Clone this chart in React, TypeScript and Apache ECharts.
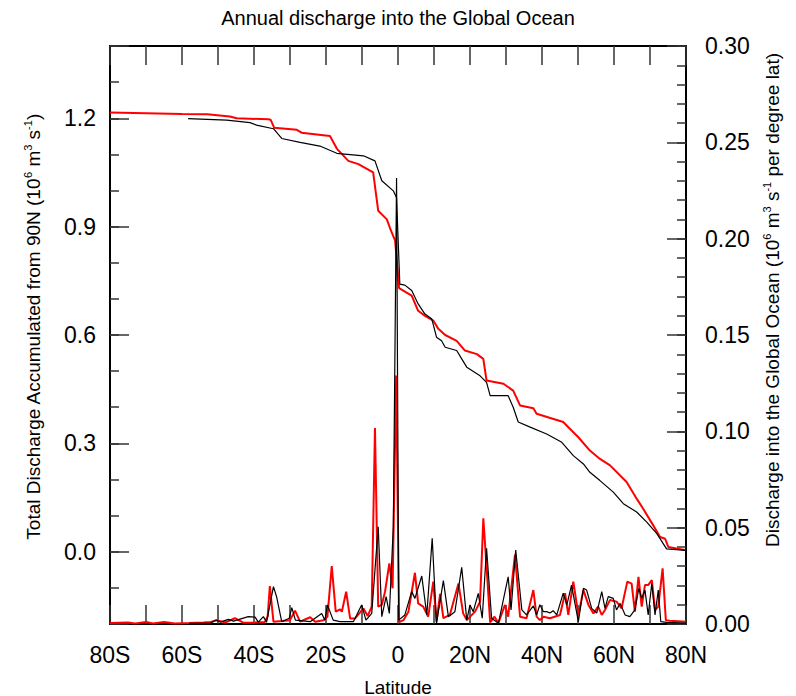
import React, { useEffect, useRef } from 'react';
import * as echarts from 'echarts';

const FONT = '"Liberation Sans", Arial, Helvetica, sans-serif';

const titleText = 'Annual discharge into the Global Ocean';
const xName = 'Latitude';
const leftName = 'Total Discharge Accumulated from 90N (10{s|6} m{s|3} s{s|-1})';
const rightName = 'Discharge into the Global Ocean (10{s|6} m{s|3} s{s|-1} per degree lat)';

// Accumulated discharge from 90N (left axis)
const redAccLat = [-80, -70, -60, -53, -46.7, -44.8, -36, -35.4, -34.4, -28.1, -26.8, -18.9, -17, -13.8, -11, -6.9, -5.5, -3.1, -2, -0.8, 0.3, 3.8, 5.6, 7.5, 9.8, 11.2, 13.1, 16.3, 18.6, 21.9, 23.7, 24.6, 29.3, 32, 33.9, 37.6, 38.5, 45.9, 47.8, 50.1, 53.3, 56.1, 58.9, 63.5, 66.3, 68.1, 70.9, 72.8, 74.2, 75.1, 80];
const redAccVal = [1.216, 1.214, 1.212, 1.211, 1.205, 1.2, 1.197, 1.196, 1.174, 1.168, 1.16, 1.151, 1.116, 1.082, 1.073, 1.05, 0.944, 0.92, 0.89, 0.861, 0.73, 0.709, 0.667, 0.653, 0.64, 0.617, 0.6, 0.584, 0.557, 0.547, 0.534, 0.474, 0.465, 0.446, 0.405, 0.397, 0.382, 0.359, 0.34, 0.317, 0.28, 0.257, 0.239, 0.193, 0.147, 0.119, 0.073, 0.041, 0.036, 0.013, 0.004];

const blackAccLat = [-58.3, -47.6, -41.1, -39.3, -34.6, -32.3, -27.2, -21.7, -17, -9.6, -6.4, -4.5, -1.3, -0.4, 0.5, 1.9, 3.8, 5.6, 7.5, 9.4, 10.7, 12.1, 13.1, 16.3, 17.7, 19.1, 22.8, 24.6, 25.6, 30.6, 32, 33.4, 36.7, 41.3, 45.5, 48.7, 51.5, 53.3, 56.1, 59.8, 62.6, 66.3, 69.1, 71.9, 74.6, 80];
const blackAccVal = [1.199, 1.195, 1.188, 1.181, 1.171, 1.144, 1.133, 1.123, 1.103, 1.096, 1.082, 1.027, 0.999, 0.98, 0.741, 0.738, 0.723, 0.686, 0.658, 0.644, 0.594, 0.584, 0.566, 0.557, 0.534, 0.511, 0.487, 0.469, 0.432, 0.432, 0.4, 0.359, 0.345, 0.326, 0.303, 0.266, 0.243, 0.22, 0.197, 0.165, 0.133, 0.11, 0.082, 0.05, 0.008, 0.004];

// Discharge per degree latitude (right axis)
const redRateLat = [-80, -75, -73, -70, -68, -65, -62, -58, -54, -52, -50.4, -48, -45.3, -43, -40.2, -37, -36.2, -35.6, -34.6, -32.3, -30, -28.6, -27.2, -24.4, -23, -20.7, -19.6, -18.4, -17.3, -16.1, -15.6, -14.4, -13.3, -11.9, -9.6, -8.4, -7.3, -6.4, -5.5, -4.5, -3.6, -2.4, -1.5, -0.5, 0.3, 1.5, 2.9, 4.7, 5.6, 7, 8.4, 9.8, 10.7, 11.7, 12.6, 14.4, 16.8, 18.1, 19.1, 21.4, 22.8, 23.7, 24.6, 25.6, 26.8, 27.9, 29.7, 30.6, 32.5, 33.9, 35.7, 37.6, 38.5, 39.4, 40.4, 42.2, 45, 46.4, 47.3, 48.7, 50.1, 51.5, 52.9, 54.3, 55.6, 56.6, 57.5, 58.9, 60.7, 62.1, 63.7, 64.9, 65.8, 66.8, 67.7, 68.6, 69.5, 70.5, 71.4, 72.3, 73.5, 74.4, 75.5, 80];
const redRateVal = [0.0005, 0.0008, 0.0003, 0.001, 0.0003, 0.001, 0.0003, 0.0005, 0.0008, 0.001, 0.002, 0.0008, 0.003, 0.0007, 0.0007, 0.001, 0.004, 0.0197, 0.0012, 0.0015, 0.002, 0.0069, 0.0012, 0.0035, 0.0012, 0.002, 0.0038, 0.03, 0.0064, 0.0076, 0.0064, 0.0168, 0.0029, 0.0029, 0.0081, 0.0042, 0.009, 0.1017, 0.009, 0.0099, 0.0168, 0.0315, 0.0185, 0.129, 0.001, 0.002, 0.0064, 0.0266, 0.0107, 0.009, 0.0038, 0.022, 0.0012, 0.0156, 0.003, 0.0047, 0.021, 0.0055, 0.002, 0.0064, 0.0116, 0.0549, 0.0297, 0.0008, 0.0038, 0.0005, 0.0099, 0.0038, 0.036, 0.0038, 0.003, 0.0176, 0.0038, 0.002, 0.0038, 0.003, 0.0047, 0.016, 0.0047, 0.022, 0.0047, 0.0176, 0.0099, 0.0055, 0.009, 0.0047, 0.0073, 0.0125, 0.0116, 0.0081, 0.022, 0.021, 0.0064, 0.0245, 0.009, 0.0202, 0.0202, 0.0228, 0.0073, 0.009, 0.0289, 0.002, 0.0017, 0.0012];

const blackRateLat = [-58, -52, -50.6, -49.4, -47.1, -45.7, -41.6, -39.7, -38.8, -37.4, -36.5, -34.6, -33.7, -32.3, -30.2, -29.5, -28.5, -24.4, -21.2, -20.3, -19.6, -18, -16.1, -12.4, -10.1, -8.9, -7.3, -5.5, -4.5, -3.3, -2.4, -1.3, -0.4, 0.2, 1.9, 3.8, 4.7, 6.6, 8, 9.5, 10.7, 12.6, 14, 15.8, 17.7, 19.1, 20, 20.9, 22.3, 23.4, 24.6, 26, 27.9, 30.6, 31.4, 32.7, 34.4, 35.7, 37.6, 38.5, 39.4, 40.4, 41.3, 42.2, 43.1, 44.1, 45.9, 46.9, 48.2, 50.1, 51.5, 52.4, 53.8, 55.2, 56.6, 57.5, 58.4, 59.8, 60.7, 61.7, 63.1, 64.4, 65.8, 66.9, 67.7, 68.6, 69.5, 70.5, 71.4, 72.3, 73, 74.6, 80];
const blackRateVal = [0.0003, 0.0005, 0.002, 0.001, 0.0024, 0.0015, 0.0038, 0.0036, 0.001, 0.0038, 0.001, 0.0194, 0.014, 0.0012, 0.003, 0.0085, 0.002, 0.0012, 0.0055, 0.002, 0.0099, 0.002, 0.0012, 0.0012, 0.0099, 0.002, 0.0055, 0.0505, 0.0038, 0.0142, 0.0055, 0.0505, 0.2315, 0.002, 0.0047, 0.0168, 0.0133, 0.0249, 0.0047, 0.0445, 0.0004, 0.0225, 0.0038, 0.0064, 0.0294, 0.002, 0.0099, 0.0064, 0.0159, 0.003, 0.0393, 0.003, 0.0004, 0.0245, 0.0073, 0.0384, 0.0073, 0.0047, 0.0094, 0.0047, 0.01, 0.0064, 0.0064, 0.0057, 0.0069, 0.0047, 0.016, 0.0099, 0.0202, 0.0012, 0.0185, 0.0176, 0.0081, 0.0057, 0.0168, 0.0081, 0.0142, 0.0133, 0.0073, 0.0107, 0.0047, 0.0038, 0.0073, 0.0185, 0.0133, 0.0176, 0.0047, 0.021, 0.0047, 0.0176, 0.0012, 0.0008, 0.0005];

const zip = (xs: number[], ys: number[]) => xs.map((x, i) => [x, ys[i]]);

const latLabel = (v: number) => {
  if (v % 20 !== 0) return '';
  if (v === 0) return '0';
  return Math.abs(v) + (v < 0 ? 'S' : 'N');
};

const tickStyle = { color: '#333', width: 1.5 };
const frameLine = { show: true, onZero: false, lineStyle: { color: '#000', width: 2 } };
const labelBase = { color: '#000', fontSize: 23, fontFamily: FONT };

export default function App() {
  const ref = useRef<HTMLDivElement>(null);
  useEffect(() => {
    if (!ref.current) return;
    const chart = echarts.init(ref.current, null, { renderer: 'svg' });
    const richSup = {
      s: { fontSize: 11, lineHeight: 11, verticalAlign: 'top', fontFamily: FONT, fill: '#000' },
    };
    const option: any = {
      animation: false,
      backgroundColor: '#fff',
      title: {
        text: titleText,
        left: 'center',
        top: 3,
        textStyle: { fontFamily: FONT, fontSize: 20, fontWeight: 'normal', color: '#000' },
      },
      grid: { left: 110, right: 110, top: 46, bottom: 72, outerBoundsMode: 'none' },
      xAxis: [
        {
          type: 'value', position: 'bottom', min: -80, max: 80, interval: 10,
          axisLine: frameLine,
          axisTick: { show: true, inside: true, length: 19, lineStyle: tickStyle },
          axisLabel: { ...labelBase, formatter: latLabel, margin: 19, showMinLabel: true, showMaxLabel: true },
          splitLine: { show: false },
        },
        {
          type: 'value', position: 'top', min: -80, max: 80, interval: 10,
          axisLine: frameLine,
          axisTick: { show: true, inside: true, length: 19, lineStyle: tickStyle },
          axisLabel: { show: false },
          splitLine: { show: false },
        },
      ],
      yAxis: [
        {
          type: 'value', position: 'left', min: -0.2, max: 1.4, interval: 0.1,
          axisLine: frameLine,
          axisTick: { show: true, inside: true, length: 9, lineStyle: tickStyle },
          axisLabel: { show: false },
          splitLine: { show: false },
        },
        {
          type: 'value', position: 'left', min: -0.2, max: 1.4, splitNumber: 5,
          axisLine: { show: false, onZero: false },
          axisTick: { show: true, inside: true, length: 19, lineStyle: tickStyle },
          axisLabel: {
            ...labelBase, margin: 14, showMinLabel: true, showMaxLabel: true,
            formatter: (v: number) => {
              const k = v / 0.3;
              return Math.abs(k - Math.round(k)) < 1e-6 ? v.toFixed(1) : '';
            },
          },
          splitLine: { show: false },
        },
        {
          type: 'value', position: 'right', min: 0, max: 0.3, interval: 0.01,
          axisLine: frameLine,
          axisTick: { show: true, inside: true, length: 9, lineStyle: tickStyle },
          axisLabel: { show: false },
          splitLine: { show: false },
        },
        {
          type: 'value', position: 'right', min: 0, max: 0.3, interval: 0.05,
          axisLine: { show: false, onZero: false },
          axisTick: { show: true, inside: true, length: 19, lineStyle: tickStyle },
          axisLabel: { ...labelBase, margin: 19, showMinLabel: true, showMaxLabel: true, formatter: (v: number) => v.toFixed(2) },
          splitLine: { show: false },
        },
      ],
      series: [
        {
          name: 'red accumulated', type: 'line', xAxisIndex: 0, yAxisIndex: 0,
          data: zip(redAccLat, redAccVal), symbol: 'none', showSymbol: false,
          lineStyle: { color: '#ff0000', width: 2 }, z: 2,
        },
        {
          name: 'red per degree', type: 'line', xAxisIndex: 0, yAxisIndex: 2,
          data: zip(redRateLat, redRateVal), symbol: 'none', showSymbol: false,
          lineStyle: { color: '#ff0000', width: 2 }, z: 2,
        },
        {
          name: 'black accumulated', type: 'line', xAxisIndex: 0, yAxisIndex: 0,
          data: zip(blackAccLat, blackAccVal), symbol: 'none', showSymbol: false,
          lineStyle: { color: '#000', width: 1.2 }, z: 3,
        },
        {
          name: 'black per degree', type: 'line', xAxisIndex: 0, yAxisIndex: 2,
          data: zip(blackRateLat, blackRateVal), symbol: 'none', showSymbol: false,
          lineStyle: { color: '#000', width: 1.2 }, z: 3,
        },
      ],
      graphic: [
        {
          type: 'text', x: 33, y: 327, rotation: Math.PI / 2,
          style: {
            text: leftName, rich: richSup, fill: '#000',
            font: `19px ${FONT}`, fontSize: 19, fontFamily: FONT, lineHeight: 22,
            align: 'center', verticalAlign: 'middle',
          },
        },
        {
          type: 'text', x: 772, y: 300, rotation: Math.PI / 2,
          style: {
            text: rightName, rich: richSup, fill: '#000',
            font: `19px ${FONT}`, fontSize: 19, fontFamily: FONT, lineHeight: 22,
            align: 'center', verticalAlign: 'middle',
          },
        },
        {
          type: 'text', x: 398, y: 687,
          style: {
            text: xName, fill: '#000', fontSize: 19, fontFamily: FONT,
            align: 'center', verticalAlign: 'middle',
          },
        },
      ],
    };
    chart.setOption(option);
    return () => chart.dispose();
  }, []);
  return <div ref={ref} style={{ position: 'fixed', left: 0, top: 0, width: 796, height: 696 }} />;
}
